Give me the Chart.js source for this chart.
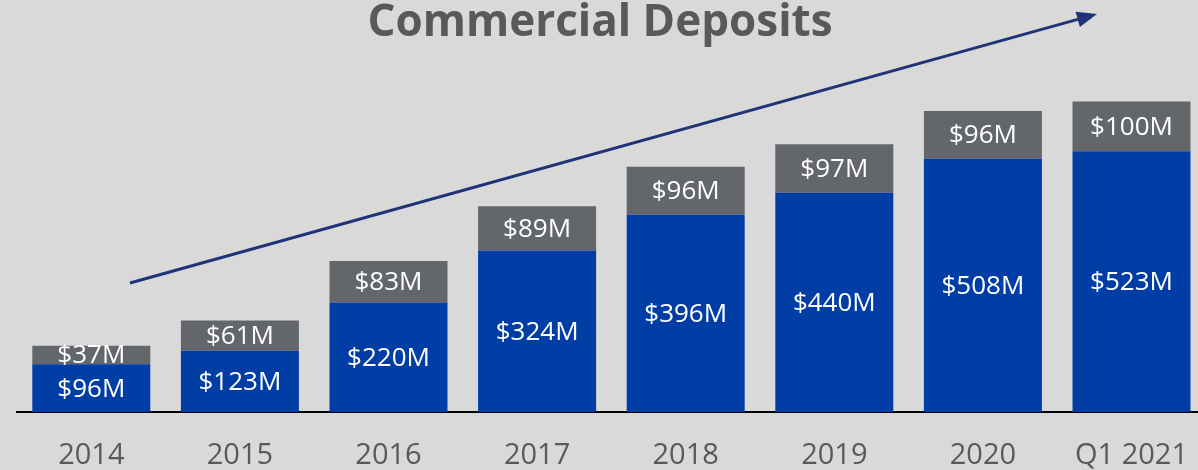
<!DOCTYPE html>
<html>
<head>
<meta charset="utf-8">
<script src="https://cdn.jsdelivr.net/npm/chart.js@4"></script>
<style>
  html, body { margin: 0; padding: 0; background: #d9d9d9; overflow: hidden; }
  #wrap { width: 1206px; height: 470px; position: relative; }
</style>
</head>
<body>
<div id="wrap"><canvas id="deposits-chart"></canvas></div>
<script>
// Chart data
const categories = ['2014', '2015', '2016', '2017', '2018', '2019', '2020', 'Q1 2021'];
const baseDeposits = [96, 123, 220, 324, 396, 440, 508, 523];
const topDeposits = [37, 61, 83, 89, 96, 97, 96, 100];
const chartTitle = 'Commercial Deposits';

const FONT = "'Open Sans', 'Liberation Sans', sans-serif";

// Draws the $xxM labels in the middle of each bar segment
const segmentLabels = {
    id: 'segmentLabels',
    afterDatasetsDraw(chart) {
        const ctx = chart.ctx;
        ctx.save();
        ctx.fillStyle = '#ffffff';
        ctx.font = `26px ${FONT}`;
        ctx.textAlign = 'center';
        ctx.textBaseline = 'middle';
        chart.data.datasets.forEach((ds, di) => {
            chart.getDatasetMeta(di).data.forEach((bar, i) => {
                const mid = (bar.y + bar.base) / 2;
                ctx.fillText(`$${ds.data[i]}M`, bar.x, mid + 1);
            });
        });
        ctx.restore();
    }
};

// Title and the trend arrow
const decorations = {
    id: 'decorations',
    afterDraw(chart) {
        const ctx = chart.ctx;
        ctx.save();
        ctx.fillStyle = '#595959';
        ctx.font = `bold 44px ${FONT}`;
        ctx.textAlign = 'center';
        ctx.textBaseline = 'middle';
        ctx.fillText(chartTitle, 600, 23);

        const x1 = 130, y1 = 283, x2 = 1097, y2 = 14;
        const ang = Math.atan2(y2 - y1, x2 - x1);
        const headLen = 20, headW = 8;
        const bx = x2 - headLen * Math.cos(ang), by = y2 - headLen * Math.sin(ang);
        ctx.strokeStyle = '#1f3478';
        ctx.fillStyle = '#1f3478';
        ctx.lineWidth = 3;
        ctx.beginPath();
        ctx.moveTo(x1, y1);
        ctx.lineTo(bx, by);
        ctx.stroke();
        ctx.beginPath();
        ctx.moveTo(x2, y2);
        ctx.lineTo(bx + headW * Math.sin(ang), by - headW * Math.cos(ang));
        ctx.lineTo(bx - headW * Math.sin(ang), by + headW * Math.cos(ang));
        ctx.closePath();
        ctx.fill();
        ctx.restore();
    }
};

const ctx = document.getElementById('deposits-chart').getContext('2d');
new Chart(ctx, {
    type: 'bar',
    data: {
        labels: categories,
        datasets: [
            { label: 'Base', data: baseDeposits, backgroundColor: '#003da5', barPercentage: 0.794, categoryPercentage: 1 },
            { label: 'Top', data: topDeposits, backgroundColor: '#63666a', barPercentage: 0.794, categoryPercentage: 1 }
        ]
    },
    options: {
        responsive: true,
        maintainAspectRatio: false,
        animation: false,
        layout: { padding: { left: 17, right: 0, top: 63, bottom: -21 } },
        scales: {
            x: {
                stacked: true,
                grid: { display: false },
                border: { display: true, color: '#000000', width: 2 },
                ticks: { color: '#595959', font: { size: 29, family: FONT }, padding: 18 }
            },
            y: {
                stacked: true,
                display: false,
                min: 0,
                max: 700
            }
        },
        plugins: {
            legend: { display: false },
            tooltip: { enabled: false }
        }
    },
    plugins: [segmentLabels, decorations]
});
</script>
</body>
</html>
